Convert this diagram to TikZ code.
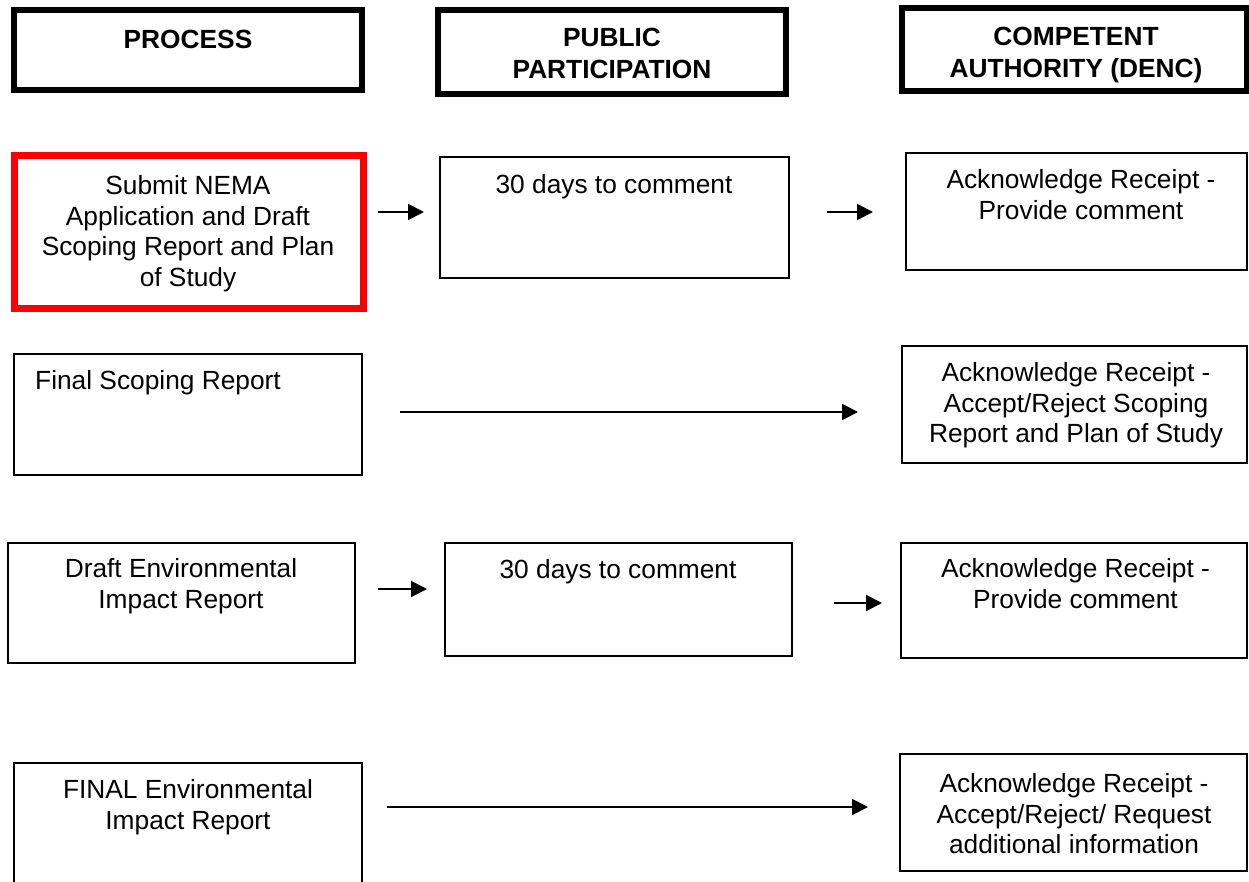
\documentclass[tikz,border=0pt]{standalone}
\usepackage{fontspec}
\setmainfont{Liberation Sans}
\usetikzlibrary{arrows.meta}
\tikzset{
  box/.style={draw=black, line width=2pt, inner sep=0pt, outer sep=0pt, anchor=north west},
  hdr/.style={box, line width=5.5pt},
  redbox/.style={box, draw=red, line width=7pt},
  txt/.style={font=\fontsize{26.3}{30.5}\selectfont, align=center, inner sep=0pt, anchor=north},
  htxt/.style={font=\bfseries\fontsize{26.3}{32}\selectfont, align=center, inner sep=0pt, anchor=north},
  arr/.style={line width=2pt, -{Triangle[length=16pt,width=16pt]}}
}
\begin{document}
\begin{tikzpicture}[x=1pt,y=-1pt]
\useasboundingbox (0,0) rectangle (1249,882);
\clip (0,0) rectangle (1249,882);
\fill[white] (0,0) rectangle (1249,882);

% header boxes
\node[hdr, minimum width=348pt, minimum height=80pt] (H1) at (14,10) {};
\node[hdr, minimum width=348pt, minimum height=84pt] (H2) at (438,10) {};
\node[hdr, minimum width=345pt, minimum height=83pt] (H3) at (902,8) {};
\node[htxt] (h1t) at (188,25.6) {\strut PROCESS};
\node[htxt] (h2t) at (612,24.3) {\strut PUBLIC\\PARTICIPATION};
\node[htxt] (h3t) at (1076,22.6) {\strut COMPETENT\\AUTHORITY (DENC)};

% row 1
\node[redbox, minimum width=349pt, minimum height=153pt] (R1) at (14.5,155.5) {};
\node[box, minimum width=349pt, minimum height=121pt] (P1) at (440,157) {};
\node[box, minimum width=341pt, minimum height=117pt] (A1) at (906,153) {};
\node[txt] (r1t) at (188,173) {\strut Submit NEMA\\Application and Draft\\Scoping Report and Plan\\of Study};
\node[txt] (p1t) at (614,172) {\strut 30 days to comment};
\node[txt] (a1t) at (1081,167) {\strut Acknowledge Receipt -\\Provide comment};

% row 2
\node[box, minimum width=348pt, minimum height=121pt] (F2) at (14,354) {};
\node[box, minimum width=345pt, minimum height=117pt] (A2) at (902,346) {};
\node[txt, anchor=north west] (f2t) at (35,368) {\strut Final Scoping Report};
\node[txt] (a2t) at (1076,360.3) {\strut Acknowledge Receipt -\\Accept/Reject Scoping\\Report and Plan of Study};

% row 3
\node[box, minimum width=347pt, minimum height=120pt] (D3) at (8,543) {};
\node[box, minimum width=347pt, minimum height=113pt] (P3) at (445,543) {};
\node[box, minimum width=346pt, minimum height=115pt] (A3) at (901,543) {};
\node[txt] (d3t) at (181,556.3) {\strut Draft Environmental\\Impact Report};
\node[txt] (p3t) at (618,557) {\strut 30 days to comment};
\node[txt] (a3t) at (1075.5,556.3) {\strut Acknowledge Receipt -\\Provide comment};

% row 4
\node[box, minimum width=348pt, minimum height=140pt] (F4) at (14,763) {};
\node[box, minimum width=347pt, minimum height=117pt] (A4) at (900,754) {};
\node[txt] (f4t) at (188,777) {\strut FINAL Environmental\\Impact Report};
\node[txt] (a4t) at (1074,771) {\strut Acknowledge Receipt -\\Accept/Reject/ Request\\additional information};

% arrows
\draw[arr, shorten <=14.5pt, shorten >=16pt] (R1.east |- 0,212) -- (P1.west |- 0,212);
\draw[arr, shorten <=38pt, shorten >=33pt] (P1.east |- 0,212) -- (A1.west |- 0,212);
\draw[arr, shorten <=38pt, shorten >=44pt] (F2.east |- 0,412) -- (A2.west |- 0,412);
\draw[arr, shorten <=23pt, shorten >=18pt] (D3.east |- 0,589) -- (P3.west |- 0,589);
\draw[arr, shorten <=42pt, shorten >=19pt] (P3.east |- 0,603) -- (A3.west |- 0,603);
\draw[arr, shorten <=25pt, shorten >=32pt] (F4.east |- 0,807) -- (A4.west |- 0,807);
\end{tikzpicture}
\end{document}
